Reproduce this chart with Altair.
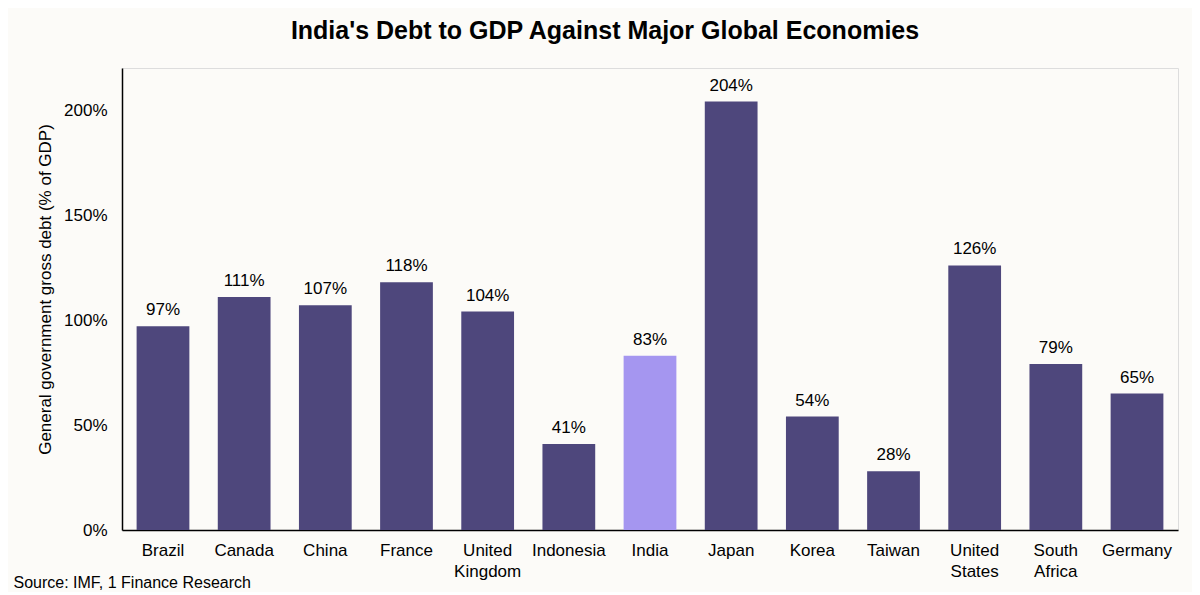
import altair as alt
import pandas as pd

countries = ["Brazil", "Canada", "China", "France", "United Kingdom", "Indonesia",
             "India", "Japan", "Korea", "Taiwan", "United States", "South Africa", "Germany"]
debt = [97, 111, 107, 118, 104, 41, 83, 204, 54, 28, 126, 79, 65]
highlight = ["Other", "Other", "Other", "Other", "Other", "Other",
             "India", "Other", "Other", "Other", "Other", "Other", "Other"]

df = pd.DataFrame({"country": countries, "debt": debt, "group": highlight})
df["label"] = df["debt"].astype(str) + "%"

FONT = "Liberation Sans"

x = alt.X("country:N", sort=countries,
          scale=alt.Scale(paddingInner=0.35, paddingOuter=0.18),
          axis=alt.Axis(title="Source: IMF, 1 Finance Research", titleAnchor="start",
                        titleAlign="left", titleX=-109, titleY=44, titleFontWeight="normal",
                        titleFontSize=16, labelAngle=0, labelFontSize=17,
                        labelExpr="split(datum.label, ' ')", labelPadding=12,
                        labelLineHeight=21,
                        labelBaseline="top", ticks=False, domainColor="#000000",
                        domainWidth=1.5, labelColor="#000000", titleColor="#000000"))

bars = alt.Chart(df).mark_bar().encode(
    x=x,
    y=alt.Y("debt:Q", scale=alt.Scale(domain=[0, 220], nice=False),
            axis=alt.Axis(title="General government gross debt (% of GDP)",
                          values=[0, 50, 100, 150, 200],
                          labelExpr="datum.value + '%'", labelFontSize=17,
                          labelPadding=15, ticks=False, grid=False,
                          domainColor="#000000", domainWidth=1.5,
                          titleFontSize=17, titleFontWeight="normal", titlePadding=9,
                          titleY=221,
                          labelColor="#000000", titleColor="#000000")),
    color=alt.Color("group:N", scale=alt.Scale(domain=["Other", "India"],
                                               range=["#4E477C", "#A596F0"]),
                    legend=None),
)

labels = alt.Chart(df).mark_text(dy=-16, fontSize=17, font=FONT, color="#000000").encode(
    x=alt.X("country:N", sort=countries),
    y="debt:Q",
    text="label:N",
)

chart = alt.layer(bars, labels).properties(
    width=1056, height=462,
    padding={"left": 114, "top": 60, "right": 14, "bottom": 62},
    autosize=alt.AutoSizeParams(type="none"),
    background="#FCFBF8",
    title=alt.TitleParams("India's Debt to GDP Against Major Global Economies",
                          fontSize=25, font=FONT, fontWeight="bold", anchor="middle",
                          dx=-45, offset=24, color="#000000"),
).configure_view(stroke=None).configure(font=FONT)

chart.save("out.html", embed_options={"renderer": "svg", "actions": False})
